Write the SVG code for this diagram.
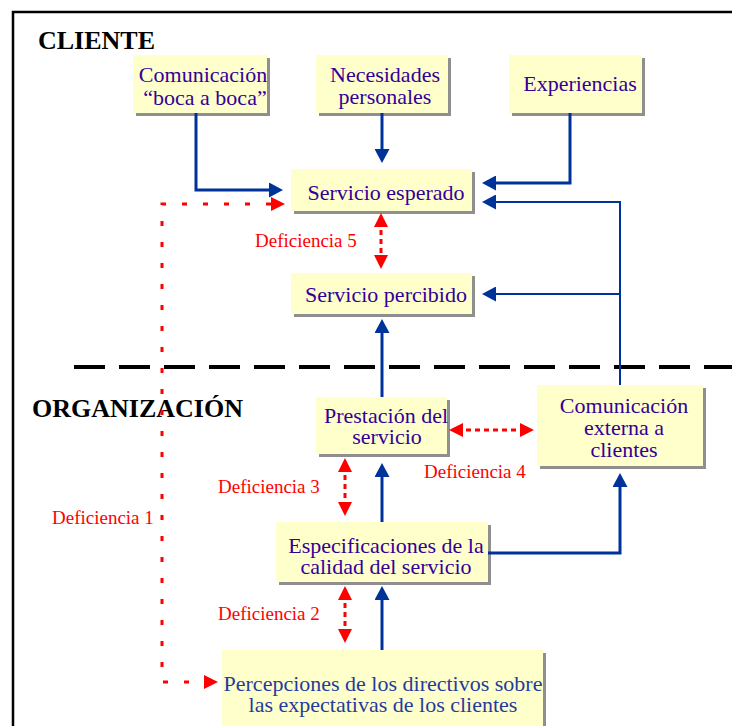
<svg xmlns="http://www.w3.org/2000/svg" width="732" height="726" viewBox="0 0 732 726">
<style>
.box{fill:#FFFFCC}
.sh{fill:#8f8f8f}
.f{font-family:'Liberation Serif','DejaVu Serif',serif}
.nt{font-size:22px;fill:#330099;text-anchor:middle}
.title{font-size:26px;font-weight:bold;fill:#000}
.lbl{font-size:19px;fill:#FF0000}
.blue{fill:none;stroke:#003399;stroke-width:3;marker-end:url(#ab)}
.blue2{fill:none;stroke:#003399;stroke-width:2;marker-end:url(#ab)}
.red{fill:none;stroke:#FF0000;stroke-width:3;stroke-dasharray:5 4;marker-start:url(#ar);marker-end:url(#ar)}
</style>
<defs>
<marker id="ab" markerUnits="userSpaceOnUse" markerWidth="15" markerHeight="15" refX="6" refY="7.5" orient="auto"><path d="M0,0 L14,7.5 L0,15 z" fill="#003399"/></marker>
<marker id="ar" markerUnits="userSpaceOnUse" markerWidth="15" markerHeight="15" refX="6" refY="7" orient="auto-start-reverse"><path d="M0,0 L14,7 L0,14 z" fill="#FF0000"/></marker>
</defs>
<rect width="732" height="726" fill="#fff"/>
<path d="M13,740 V12 H745" fill="none" stroke="#000" stroke-width="2.5"/>
<g class="f">
<text class="title" x="38" y="49">CLIENTE</text>
<text class="title" x="32" y="417">ORGANIZACIÓN</text>
</g>
<line x1="74" y1="367" x2="740" y2="367" stroke="#000" stroke-width="4" stroke-dasharray="31 14"/>

<g class="f">
<g id="n-boca"><rect class="sh" x="136" y="58" width="134" height="58"/><rect class="box" x="133" y="55" width="134" height="58"/><text class="nt" y="82"><tspan x="203">Comunicación</tspan><tspan x="205" dy="23">“boca a boca”</tspan></text></g>
<g id="n-necesidades"><rect class="sh" x="319" y="58" width="132" height="58"/><rect class="box" x="316" y="55" width="132" height="58"/><text class="nt" y="82"><tspan x="385">Necesidades</tspan><tspan x="385" dy="22">personales</tspan></text></g>
<g id="n-experiencias"><rect class="sh" x="512" y="58" width="133" height="58"/><rect class="box" x="509" y="55" width="133" height="58"/><text class="nt" x="580" y="91">Experiencias</text></g>
<g id="n-esperado"><rect class="sh" x="294" y="172" width="181" height="42"/><rect class="box" x="291" y="169" width="181" height="42"/><text class="nt" x="386" y="200">Servicio esperado</text></g>
<g id="n-percibido"><rect class="sh" x="294" y="276" width="181" height="41"/><rect class="box" x="291" y="273" width="181" height="41"/><text class="nt" x="386" y="302">Servicio percibido</text></g>
<g id="n-prestacion"><rect class="sh" x="319" y="400" width="131" height="57"/><rect class="box" x="316" y="397" width="131" height="57"/><text class="nt" y="423"><tspan x="386">Prestación del</tspan><tspan x="387" dy="21">servicio</tspan></text></g>
<g id="n-externa"><rect class="sh" x="540" y="388" width="166" height="81"/><rect class="box" x="537" y="385" width="166" height="81"/><text class="nt" y="413"><tspan x="624">Comunicación</tspan><tspan x="624" dy="22">externa a</tspan><tspan x="624" dy="22">clientes</tspan></text></g>
<g id="n-especificaciones"><rect class="sh" x="279" y="525" width="212" height="60"/><rect class="box" x="276" y="522" width="212" height="60"/><text class="nt" y="553"><tspan x="386">Especificaciones de la</tspan><tspan x="386" dy="21">calidad del servicio</tspan></text></g>
<g id="n-percepciones"><rect class="sh" x="225" y="653" width="321" height="80"/><rect class="box" x="222" y="650" width="321" height="80"/><text class="nt" y="691" style="fill:#1F3C9E"><tspan x="383">Percepciones de los directivos sobre</tspan><tspan x="383" dy="21">las expectativas de los clientes</tspan></text></g>
</g>

<g id="connectors">
<path class="blue" d="M196,113 V190 H275"/>
<path class="blue" d="M382,113 V155"/>
<path class="blue" d="M570,113 V183 H490"/>
<path class="blue2" d="M620,385 V202 H490"/>
<path class="blue2" d="M620,294 H490"/>
<path class="blue" d="M382,397 V327"/>
<path class="blue" d="M382,522 V471"/>
<path class="blue" d="M488,553 H620 V481"/>
<path class="blue" d="M382,650 V594"/>
<path class="red" d="M381,221 V261"/>
<path class="red" d="M345,466 V508"/>
<path class="red" d="M345,594 V635"/>
<path class="red" d="M457,430 H526"/>
<path d="M210,682 H162 V204 H277" fill="none" stroke="#FF0000" stroke-width="3" stroke-dasharray="5 16" marker-start="url(#ar)" marker-end="url(#ar)"/>
</g>
<g id="labels" class="f">
<text class="lbl" x="255" y="247">Deficiencia 5</text>
<text class="lbl" x="424" y="478">Deficiencia 4</text>
<text class="lbl" x="218" y="493">Deficiencia 3</text>
<text class="lbl" x="218" y="620">Deficiencia 2</text>
<text class="lbl" x="52" y="524">Deficiencia 1</text>
</g>
</svg>
